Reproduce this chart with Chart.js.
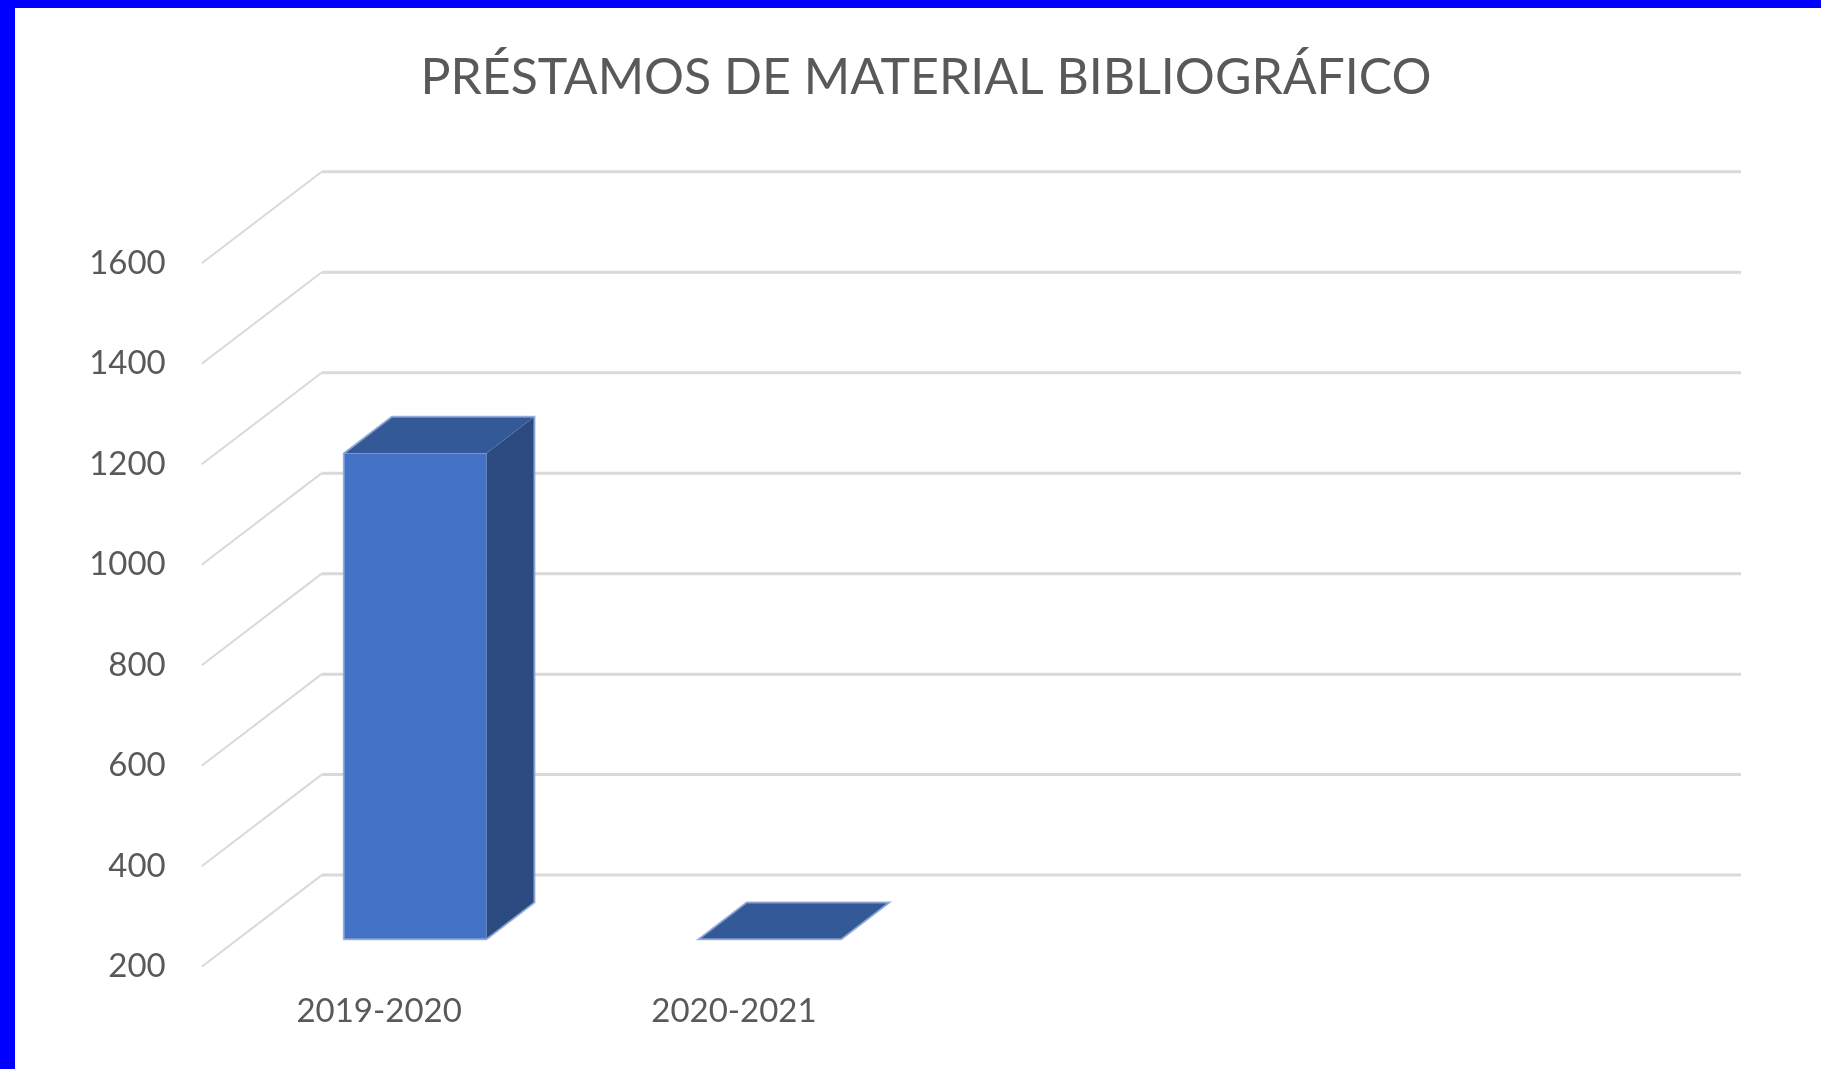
<!DOCTYPE html>
<html>
<head>
<meta charset="utf-8">
<title>Préstamos de material bibliográfico</title>
<script src="https://cdn.jsdelivr.net/npm/chart.js@4.4.0/dist/chart.umd.min.js"></script>
<style>
  html, body { margin: 0; padding: 0; background: #fff; overflow: hidden; }
  body { width: 1821px; height: 1069px; position: relative; }
  .edge { position: absolute; background: #0000FF; }
  #edgeLeft { left: 0; top: 0; width: 15px; height: 1069px; }
  #edgeTop { left: 0; top: 0; width: 1821px; height: 8px; }
  #myChart { position: absolute; left: 15px; top: 8px; }
</style>
</head>
<body>
<div class="edge" id="edgeLeft"></div>
<div class="edge" id="edgeTop"></div>
<canvas id="myChart" width="1822" height="1061"></canvas>
<script>
const ctx = document.getElementById('myChart');

// Chart data
const chartTitle = 'PRÉSTAMOS DE MATERIAL BIBLIOGRÁFICO';
const periods = ['2019-2020', '2020-2021', '', ''];
const loans = [1167, 0, null, null];
const yMin = 200;
const yMax = 1600;
const yStep = 200;

// 3D look: depth of the box and where the bars sit inside it
const DX = 120, DY = -91.6;
const BAR_FRONT = 0.3, BAR_BACK = 0.7;

const box3d = {
  id: 'box3d',
  beforeDatasetsDraw(chart) {
    const { ctx, chartArea: a, scales: { y } } = chart;
    ctx.save();
    ctx.strokeStyle = '#D9D9D9';
    y.ticks.forEach(t => {
      const py = y.getPixelForValue(t.value);
      ctx.lineWidth = 2;
      ctx.beginPath();
      ctx.moveTo(a.left, py);
      ctx.lineTo(a.left + DX, py + DY);
      ctx.stroke();
      ctx.lineWidth = 3;
      ctx.beginPath();
      ctx.moveTo(a.left + DX, py + DY);
      ctx.lineTo(a.right + DX, py + DY);
      ctx.stroke();
    });
    ctx.restore();
  },
  afterDatasetsDraw(chart) {
    const { ctx, scales: { y } } = chart;
    const floor = y.getPixelForValue(y.min);
    const values = chart.data.datasets[0].data;
    const fx = BAR_FRONT * DX, fy = BAR_FRONT * DY;
    const bx = (BAR_BACK - BAR_FRONT) * DX, by = (BAR_BACK - BAR_FRONT) * DY;

    chart.getDatasetMeta(0).data.forEach((bar, i) => {
      if (values[i] == null) return;
      const x0 = bar.x - bar.width / 2 + fx;
      const x1 = bar.x + bar.width / 2 + fx;
      const top = Math.min(bar.y, floor) + fy;
      const bottom = floor + fy;

      ctx.save();
      // side
      ctx.fillStyle = '#2B4A80';
      ctx.beginPath();
      ctx.moveTo(x1, top);
      ctx.lineTo(x1 + bx, top + by);
      ctx.lineTo(x1 + bx, bottom + by);
      ctx.lineTo(x1, bottom);
      ctx.closePath();
      ctx.fill();
      // top
      ctx.fillStyle = '#335A96';
      ctx.beginPath();
      ctx.moveTo(x0, top);
      ctx.lineTo(x1, top);
      ctx.lineTo(x1 + bx, top + by);
      ctx.lineTo(x0 + bx, top + by);
      ctx.closePath();
      ctx.fill();
      // front
      ctx.fillStyle = '#4472C4';
      ctx.fillRect(x0, top, x1 - x0, bottom - top);
      // light outline
      ctx.strokeStyle = 'rgba(140,165,215,0.85)';
      ctx.lineWidth = 2;
      ctx.beginPath();
      ctx.moveTo(x0, bottom);
      ctx.lineTo(x0, top);
      ctx.lineTo(x0 + bx, top + by);
      ctx.lineTo(x1 + bx, top + by);
      ctx.lineTo(x1 + bx, bottom + by);
      ctx.lineTo(x1, bottom);
      ctx.closePath();
      ctx.stroke();
      ctx.restore();
    });
  }
};

const data = {
  labels: periods,
  datasets: [
    {
      label: chartTitle,
      data: loans,
      backgroundColor: 'rgba(0,0,0,0)',
      borderWidth: 0,
      categoryPercentage: 1,
      barPercentage: 0.402
    }
  ]
};

new Chart(ctx, {
  type: 'bar',
  data: data,
  plugins: [box3d],
  options: {
    responsive: false,
    animation: false,
    layout: {
      padding: 0
    },
    plugins: {
      legend: { display: false },
      tooltip: { enabled: false },
      title: {
        display: true,
        text: chartTitle,
        color: '#595959',
        font: { family: 'Lato', size: 50, weight: 'normal' },
        padding: { top: 39.5, bottom: 155.8 }
      }
    },
    scales: {
      x: {
        grid: { display: false },
        border: { display: false },
        ticks: {
          color: '#595959',
          font: { family: 'Lato', size: 33 },
          padding: 17,
          maxRotation: 0
        },
        afterFit(scale) { scale.height = 102.3; }
      },
      y: {
        min: yMin,
        max: yMax,
        grid: { display: false, drawTicks: false },
        border: { display: false },
        ticks: {
          stepSize: yStep,
          color: '#595959',
          font: { family: 'Lato', size: 33 },
          padding: 36,
          callback: v => String(v)
        },
        afterFit(scale) { scale.width = 186.7; }
      },
      // empty right axis: keeps room for the back wall of the 3D box
      yRight: {
        position: 'right',
        grid: { display: false, drawTicks: false },
        border: { display: false },
        ticks: { display: false },
        afterFit(scale) { scale.width = 216; }
      }
    }
  }
});
</script>
</body>
</html>
